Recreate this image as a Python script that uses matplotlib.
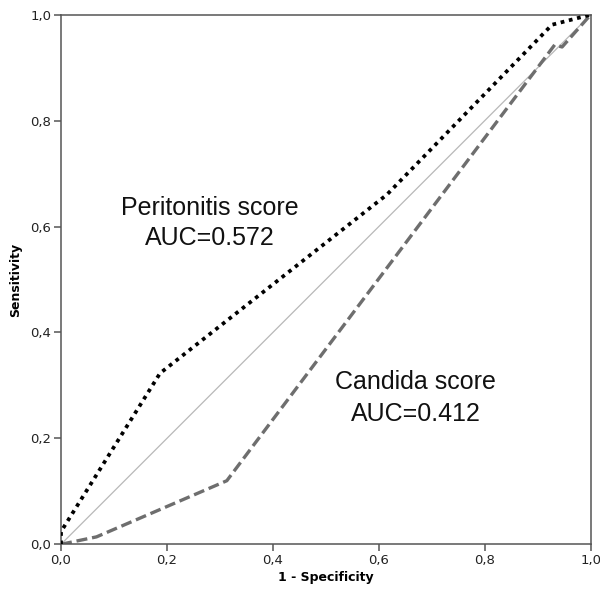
import matplotlib
matplotlib.use("Agg")
import matplotlib.pyplot as plt
from matplotlib.ticker import FuncFormatter

# ROC curve points
peritonitis_fpr = [0.0, 0.0, 0.187, 0.615, 0.927, 1.0]
peritonitis_tpr = [0.0, 0.024, 0.323, 0.66, 0.981, 1.0]

candida_fpr = [0.0, 0.067, 0.313, 0.932, 0.946, 1.0]
candida_tpr = [0.0, 0.014, 0.120, 0.943, 0.939, 1.0]

ticks = [0.0, 0.2, 0.4, 0.6, 0.8, 1.0]

fig = plt.figure(figsize=(6.0, 5.94), dpi=100)
ax = fig.add_axes([0.1017, 0.0837, 0.8828, 0.8916])

ax.plot([0, 1], [0, 1], color="#b8b8b8", lw=0.9, zorder=1)
ax.plot(peritonitis_fpr, peritonitis_tpr, color="black", lw=2.7,
        linestyle=(0, (1, 1.25)), zorder=3)
ax.plot(candida_fpr, candida_tpr, color="#6e6e6e", lw=2.4,
        linestyle=(0, (3.3, 1.45)), zorder=2)

ax.text(0.28, 0.622, "Peritonitis score", ha="center", va="baseline",
        fontsize=18, family="Liberation Sans", color="#111111")
ax.text(0.28, 0.565, "AUC=0.572", ha="center", va="baseline",
        fontsize=18, family="Liberation Sans", color="#111111")
ax.text(0.67, 0.293, "Candida score", ha="center", va="baseline",
        fontsize=18, family="Liberation Sans", color="#111111")
ax.text(0.67, 0.233, "AUC=0.412", ha="center", va="baseline",
        fontsize=18, family="Liberation Sans", color="#111111")

ax.set_xlim(0, 1)
ax.set_ylim(0, 1)
ax.set_xticks(ticks)
ax.set_yticks(ticks)
comma = FuncFormatter(lambda v, p: ("%.1f" % v).replace(".", ","))
ax.xaxis.set_major_formatter(comma)
ax.yaxis.set_major_formatter(comma)

for s in ax.spines.values():
    s.set_color("#555555")
    s.set_linewidth(1.1)

ax.tick_params(direction="out", length=5, width=1.1, color="#555555",
               labelsize=9.5, labelcolor="#222222", pad=2)

ax.set_xlabel("1 - Specificity", fontsize=9, fontweight="bold", labelpad=3)
ax.set_ylabel("Sensitivity", fontsize=9, fontweight="bold", labelpad=6)

fig.savefig("out.png", dpi=100)
